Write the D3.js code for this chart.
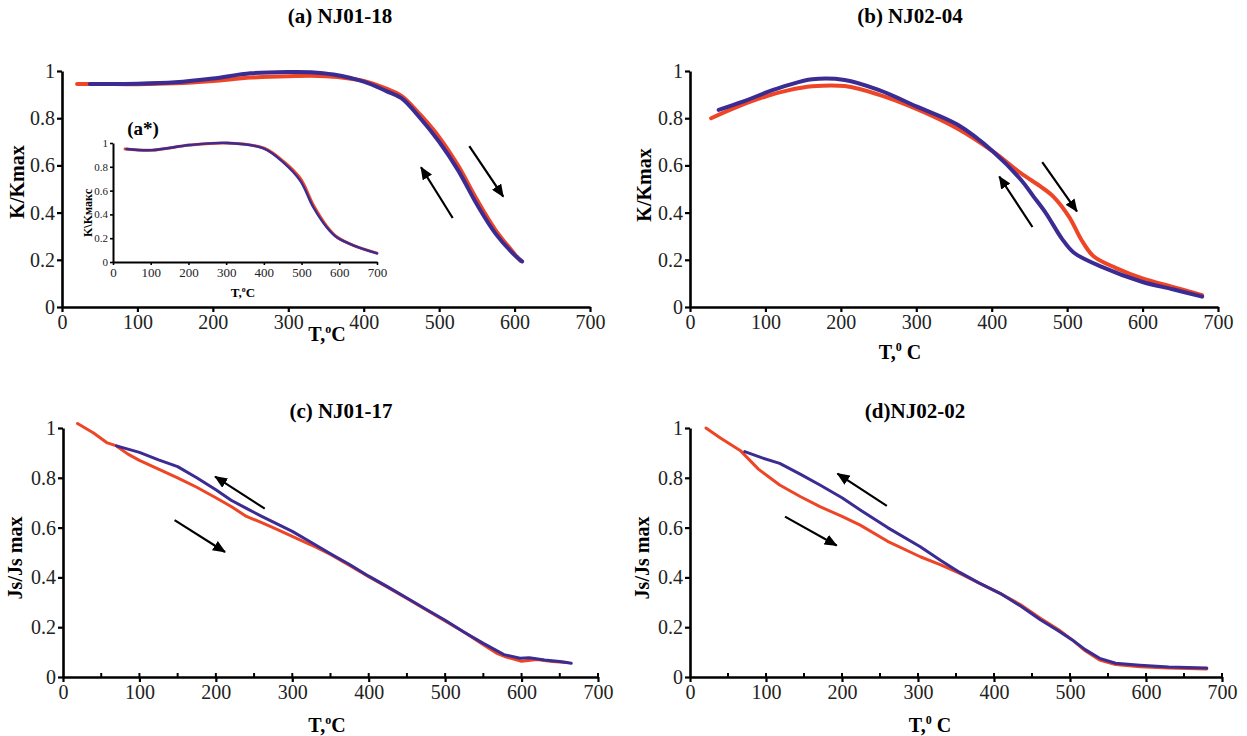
<!DOCTYPE html>
<html>
<head>
<meta charset="utf-8">
<script src="https://cdn.jsdelivr.net/npm/d3@7"></script>
<style>
  body { margin: 0; background: #fff; }
  svg text { font-family: 'Liberation Serif', 'DejaVu Serif', serif; }
  .domain { stroke: #000; stroke-width: 2.6px; }
  .tick line { stroke: #000; stroke-width: 2.2px; }
</style>
</head>
<body>
<svg id="chart" width="1247" height="736"></svg>
<script>
// temperature ticks and normalised value ticks
const tTicks = [0, 100, 200, 300, 400, 500, 600, 700];
const tMinor = [50, 150, 250, 350, 450, 550, 650];
const vTicks = [0, 0.2, 0.4, 0.6, 0.8, 1];

// (a) NJ01-18, K/Kmax, heating (red) and cooling (blue)
const aRed = [[20,0.945],[50,0.945],[100,0.944],[150,0.948],[200,0.958],[250,0.972],[300,0.978],[350,0.978],[400,0.958],[430,0.925],[450,0.895],[475,0.815],[500,0.72],[525,0.6],[550,0.455],[575,0.325],[600,0.225],[608,0.195]];
const aBlue = [[37,0.945],[50,0.945],[100,0.946],[150,0.952],[200,0.968],[250,0.99],[300,0.996],[330,0.995],[360,0.985],[400,0.955],[430,0.915],[450,0.885],[475,0.8],[500,0.7],[525,0.58],[550,0.435],[575,0.31],[600,0.22],[610,0.193]];
// (a*) inset
const insRed = [[32,0.95],[103,0.94],[204,0.983],[302,1.0],[399,0.958],[452,0.845],[497,0.7],[531,0.48],[567,0.3],[594,0.21],[637,0.14],[700,0.075]];
const insBlue = [[36,0.95],[103,0.94],[204,0.983],[302,1.0],[399,0.955],[452,0.835],[497,0.68],[531,0.46],[567,0.29],[594,0.205],[637,0.14],[700,0.072]];
// (b) NJ02-04
const bRed = [[28,0.8],[60,0.845],[102,0.894],[130,0.918],[162,0.935],[205,0.936],[250,0.9],[301,0.838],[355,0.755],[402,0.658],[439,0.566],[465,0.51],[482,0.467],[503,0.38],[519,0.284],[535,0.215],[565,0.165],[599,0.122],[640,0.085],[679,0.05]];
const bBlue = [[38,0.835],[70,0.87],[102,0.91],[130,0.94],[162,0.965],[205,0.962],[250,0.92],[301,0.849],[355,0.772],[402,0.658],[439,0.538],[455,0.47],[472,0.397],[493,0.29],[509,0.23],[546,0.17],[599,0.107],[640,0.075],[679,0.044]];
// (c) NJ01-17, Js/Js max
const cRed = [[19,1.018],[40,0.98],[58,0.94],[70,0.928],[85,0.895],[100,0.87],[125,0.835],[150,0.8],[175,0.762],[200,0.72],[220,0.685],[240,0.645],[260,0.62],[280,0.593],[300,0.565],[325,0.53],[350,0.492],[375,0.448],[400,0.403],[425,0.36],[450,0.315],[475,0.27],[500,0.225],[525,0.18],[550,0.13],[567,0.096],[580,0.08],[600,0.063],[620,0.07],[640,0.062],[660,0.058]];
const cBlue = [[70,0.928],[85,0.915],[100,0.902],[125,0.872],[150,0.845],[175,0.8],[200,0.752],[220,0.71],[240,0.677],[260,0.645],[280,0.615],[300,0.585],[325,0.54],[350,0.495],[375,0.452],[400,0.405],[425,0.362],[450,0.317],[475,0.272],[500,0.228],[525,0.18],[550,0.135],[577,0.09],[598,0.075],[610,0.077],[630,0.068],[650,0.062],[665,0.055]];
// (d) NJ02-02
const dRed = [[21,1.0],[40,0.96],[66,0.91],[90,0.835],[118,0.771],[145,0.725],[171,0.684],[200,0.645],[224,0.61],[260,0.545],[303,0.483],[330,0.45],[355,0.416],[380,0.378],[408,0.336],[435,0.29],[461,0.236],[485,0.19],[503,0.149],[520,0.105],[539,0.068],[560,0.05],[592,0.041],[630,0.036],[680,0.032]];
const dBlue = [[72,0.905],[95,0.88],[118,0.858],[145,0.815],[171,0.771],[200,0.72],[224,0.671],[260,0.6],[303,0.523],[330,0.468],[355,0.42],[380,0.378],[408,0.336],[435,0.285],[461,0.23],[485,0.185],[503,0.149],[520,0.11],[539,0.075],[560,0.055],[592,0.047],[630,0.04],[680,0.036]];

const RED = "#ee4526", BLUE = "#3b2c93";
const FONT = "'Liberation Serif', 'DejaVu Serif', serif";

const svg = d3.select("#chart");
svg.append("rect").attr("width", 1247).attr("height", 736).attr("fill", "#fff");

const defs = svg.append("defs");
defs.append("marker")
  .attr("id", "head")
  .attr("viewBox", "0 0 13 11")
  .attr("refX", 12).attr("refY", 5.5)
  .attr("markerWidth", 13).attr("markerHeight", 11)
  .attr("markerUnits", "userSpaceOnUse")
  .attr("orient", "auto")
  .append("path").attr("d", "M0,0 L13,5.5 L0,11 Z").attr("fill", "#000");

const smooth = d3.curveCatmullRom.alpha(0.5);

const panels = [
  {x0: 62, x1: 590, y0: 307, y1: 71, red: aRed, blue: aBlue, lw: 4, curve: smooth,
   title: "(a) NJ01-18", tx: 340, ty: 23, ylab: "K/Kmax", ylx: 24, yly: 182,
   xlab: ["T,", "o", "C"], xlx: 327, xly: 341,
   arrows: [[[518, 0.377], [476, 0.592]], [[540, 0.682], [585, 0.468]]]},
  {x0: 690, x1: 1218, y0: 307, y1: 71, red: bRed, blue: bBlue, lw: 4, curve: smooth,
   title: "(b) NJ02-04", tx: 910, ty: 23, ylab: "K/Kmax", ylx: 651, yly: 185,
   xlab: ["T,", "0", " C"], xlx: 900, xly: 359,
   arrows: [[[454, 0.339], [410, 0.553]], [[467, 0.614], [513, 0.405]]]},
  {x0: 63, x1: 598, y0: 677, y1: 428, red: cRed, blue: cBlue, lw: 3, curve: d3.curveLinear, minor: true,
   title: "(c) NJ01-17", tx: 341, ty: 418, ylab: "Js/Js max", ylx: 22, yly: 558,
   xlab: ["T,", "o", "C"], xlx: 327, xly: 732,
   arrows: [[[264, 0.676], [199, 0.805]], [[146, 0.63], [212, 0.502]]]},
  {x0: 690, x1: 1222, y0: 677, y1: 428, red: dRed, blue: dBlue, lw: 3, curve: d3.curveLinear, minor: true,
   title: "(d)NJ02-02", tx: 915, ty: 418, ylab: "Js/Js max", ylx: 649, yly: 558,
   xlab: ["T,", "0", " C"], xlx: 930, xly: 732,
   arrows: [[[259, 0.687], [194, 0.817]], [[125, 0.644], [193, 0.528]]]}
];

function xLabel(g, parts, x, y, size) {
  const t = g.append("text").attr("x", x).attr("y", y).attr("font-family", FONT)
    .attr("text-anchor", "middle").attr("font-weight", "bold").attr("font-size", size);
  t.append("tspan").text(parts[0]);
  t.append("tspan").attr("font-size", size * 0.6).attr("dy", -size * 0.38).text(parts[1]);
  t.append("tspan").attr("dy", size * 0.38).text(parts[2]);
}

function drawAxes(g, x, y, fs, tick, vfs) {
  const ax = g.append("g").attr("transform", `translate(0,${y.range()[0]})`)
    .call(d3.axisBottom(x).tickValues(tTicks).tickSize(tick).tickSizeOuter(0).tickPadding(3))
    .attr("font-family", FONT);
  ax.selectAll("text").attr("font-size", fs).attr("fill", "#222");
  const ay = g.append("g").attr("transform", `translate(${x.range()[0]},0)`)
    .call(d3.axisLeft(y).tickValues(vTicks).tickSize(tick).tickSizeOuter(0).tickPadding(2)
      .tickFormat(d => String(+d.toFixed(1))))
    .attr("font-family", FONT);
  ay.selectAll("text").attr("font-size", vfs || fs).attr("fill", "#222");
  return ax;
}

panels.forEach(p => {
  const g = svg.append("g");
  const x = d3.scaleLinear().domain([0, 700]).range([p.x0, p.x1]);
  const y = d3.scaleLinear().domain([0, 1]).range([p.y0, p.y1]);

  const ax = drawAxes(g, x, y, 20, 5);
  if (p.minor) {
    ax.selectAll(".minor").data(tMinor.concat(tTicks.slice(1))).join("line")
      .attr("x1", d => x(d)).attr("x2", d => x(d))
      .attr("y1", 0).attr("y2", -4).attr("stroke", "#000").attr("stroke-width", 2);
  }

  const line = d3.line().x(d => x(d[0])).y(d => y(d[1])).curve(p.curve);
  g.append("path").datum(p.red).attr("d", line).attr("fill", "none")
    .attr("stroke", RED).attr("stroke-width", p.lw).attr("stroke-linejoin", "round").attr("stroke-linecap", "round");
  g.append("path").datum(p.blue).attr("d", line).attr("fill", "none")
    .attr("stroke", BLUE).attr("stroke-width", p.lw).attr("stroke-linejoin", "round").attr("stroke-linecap", "round");

  p.arrows.forEach(a => {
    g.append("line")
      .attr("x1", x(a[0][0])).attr("y1", y(a[0][1]))
      .attr("x2", x(a[1][0])).attr("y2", y(a[1][1]))
      .attr("stroke", "#000").attr("stroke-width", 2.2).attr("marker-end", "url(#head)");
  });

  g.append("text").attr("x", p.tx).attr("y", p.ty).attr("text-anchor", "middle").attr("font-family", FONT)
    .attr("font-weight", "bold").attr("font-size", 21).text(p.title);
  g.append("text").attr("transform", `translate(${p.ylx},${p.yly}) rotate(-90)`).attr("font-family", FONT)
    .attr("text-anchor", "middle").attr("font-weight", "bold").attr("font-size", 20).text(p.ylab);
  xLabel(g, p.xlab, p.xlx, p.xly, 20);
});

// inset (a*)
{
  const g = svg.append("g");
  const x = d3.scaleLinear().domain([0, 700]).range([113, 377]);
  const y = d3.scaleLinear().domain([0, 1]).range([262, 143]);
  drawAxes(g, x, y, 13, 3, 11);
  g.selectAll(".domain").style("stroke-width", "2px");
  g.selectAll(".tick line").style("stroke-width", "1.6px");
  const line = d3.line().x(d => x(d[0])).y(d => y(d[1])).curve(smooth);
  g.append("path").datum(insRed).attr("d", line).attr("fill", "none")
    .attr("stroke", RED).attr("stroke-width", 3).attr("stroke-linecap", "round");
  g.append("path").datum(insBlue).attr("d", line).attr("fill", "none")
    .attr("stroke", BLUE).attr("stroke-width", 2.4).attr("stroke-linecap", "round");
  g.append("text").attr("x", 143).attr("y", 135).attr("text-anchor", "middle").attr("font-family", FONT)
    .attr("font-weight", "bold").attr("font-size", 19).text("(a*)");
  g.append("text").attr("transform", "translate(92,213) rotate(-90)").attr("font-family", FONT)
    .attr("text-anchor", "middle").attr("font-weight", "bold").attr("font-size", 12).text("K\\Kмакс");
  xLabel(g, ["T,", "o", "C"], 243, 297, 13);
}
</script>
</body>
</html>
